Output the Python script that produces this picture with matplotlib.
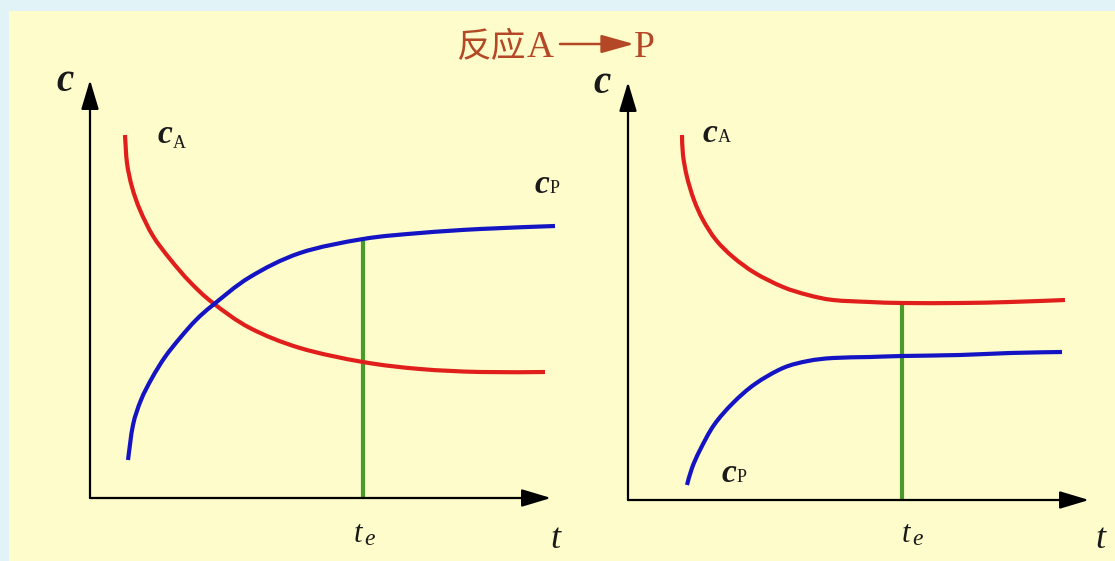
import matplotlib
matplotlib.use('Agg')
import numpy as np
import matplotlib.pyplot as plt
from matplotlib.patches import Rectangle, FancyArrowPatch, PathPatch
from matplotlib.path import Path

# ---------------- data ----------------
title_cn = "反应"
title_a = "A"
title_p = "P"

left_cA_t = [3.5, 3.7, 4.2, 5.0, 6.3, 8.0, 10.0, 12.3, 16.0, 21.0, 27.3, 33.0, 39.0, 45.5]
left_cA_c = [36.3, 33.5, 31.1, 28.8, 26.2, 23.9, 21.6, 19.5, 17.0, 15.0, 13.6, 12.9, 12.6, 12.6]
left_cP_t = [3.8, 4.3, 5.1, 6.2, 7.5, 9.0, 10.6, 12.3, 16.0, 21.0, 27.3, 33.0, 39.0, 46.5]
left_cP_c = [3.8, 7.3, 9.8, 12.0, 14.1, 16.0, 17.8, 19.3, 22.1, 24.5, 25.9, 26.5, 26.9, 27.2]
left_te = 27.3

right_cA_t = [5.4, 5.5, 5.9, 6.6, 7.5, 8.8, 10.5, 12.7, 15.5, 18.0, 20.5, 24.2, 27.4, 33.2, 38.2, 43.7]
right_cA_c = [36.5, 34.5, 32.3, 30.0, 28.0, 26.0, 24.3, 22.7, 21.3, 20.5, 20.0, 19.8, 19.7, 19.7, 19.8, 20.0]
right_cP_t = [5.9, 6.4, 7.2, 8.6, 10.5, 12.7, 15.5, 18.0, 20.5, 24.2, 27.4, 33.2, 38.2, 43.4]
right_cP_c = [1.5, 3.2, 5.0, 7.5, 9.7, 11.6, 13.2, 13.9, 14.2, 14.3, 14.4, 14.5, 14.7, 14.8]
right_te = 27.4

# ---------------- styles ----------------
W, H = 1115, 561
BG_OUT = '#e1f3f7'
BG_IN = '#fefcca'
RED = '#e01f1c'
BLUE = '#1414c4'
GREEN = '#4a9b2c'
TITLE_C = '#b44826'
SERIF = 'Liberation Serif'
INK = '#1a1a1a'

fig = plt.figure(figsize=(W / 100, H / 100), dpi=100, facecolor=BG_OUT)
fig.patches.append(Rectangle((9 / W, 0), 1 - 9 / W, 1 - 11 / H, transform=fig.transFigure,
                             facecolor=BG_IN, edgecolor='none', zorder=-10))


def fx(px):
    return px / W


def fy(py):
    return 1 - py / H


# title
fig.text(fx(456), fy(57), title_cn, family=['Noto Sans CJK SC', 'DejaVu Sans'], fontsize=25,
         color=TITLE_C, ha='left', va='baseline', fontweight='light')
fig.text(fx(527), fy(57), title_a, family=SERIF, fontsize=27, color=TITLE_C, ha='left', va='baseline')
fig.patches.append(FancyArrowPatch((fx(560), fy(44)), (fx(634), fy(44)), transform=fig.transFigure,
                                   arrowstyle='-|>,head_length=1.0,head_width=0.28', mutation_scale=20,
                                   lw=1.8, color=TITLE_C, shrinkA=0, shrinkB=0))
fig.text(fx(634), fy(57), title_p, family=SERIF, fontsize=27, color=TITLE_C, ha='left', va='baseline')


def smooth_curve(ax, xs, ys, color):
    """Draw a smooth curve through the read points (Catmull-Rom rendered as Bezier)."""
    P = np.column_stack([xs, ys]).astype(float)
    n = len(P)
    verts = [P[0]]
    codes = [Path.MOVETO]
    for i in range(n - 1):
        p0 = P[i - 1] if i > 0 else P[i]
        p1, p2 = P[i], P[i + 1]
        p3 = P[i + 2] if i + 2 < n else P[i + 1]
        verts += [p1 + (p2 - p0) / 6.0, p2 - (p3 - p1) / 6.0, p2]
        codes += [Path.CURVE4] * 3
    ax.add_patch(PathPatch(Path(verts, codes), facecolor='none', edgecolor=color, lw=3,
                           capstyle='butt', joinstyle='round', zorder=3))


def panel(rect, xlim, ylim, cA_t, cA_c, cP_t, cP_c, te, te_top_curve, labels):
    ax = fig.add_axes(rect, zorder=5)
    ax.set_xlim(*xlim)
    ax.set_ylim(*ylim)
    ax.axis('off')
    ax.patch.set_alpha(0)
    ax.annotate('', xy=(0, 41.8), xytext=(0, 0),
                arrowprops=dict(arrowstyle='-|>,head_length=1.0,head_width=0.3', mutation_scale=18,
                                lw=1.6, color='black', shrinkA=0, shrinkB=0))
    ax.annotate('', xy=(46.1, 0), xytext=(0, 0),
                arrowprops=dict(arrowstyle='-|>,head_length=1.0,head_width=0.3', mutation_scale=18,
                                lw=1.6, color='black', shrinkA=0, shrinkB=0))
    smooth_curve(ax, cA_t, cA_c, RED)
    smooth_curve(ax, cP_t, cP_c, BLUE)
    top = np.interp(te, te_top_curve[0], te_top_curve[1])
    ax.plot([te, te], [0, top], color=GREEN, lw=3, solid_capstyle='butt', zorder=2)
    for (txt, x, y, size, style, weight, ha) in labels:
        ax.text(x, y, txt, family=SERIF, fontsize=size, style=style, fontweight=weight,
                ha=ha, va='baseline', color=INK)
    return ax


left_labels = [
    ('c', -2.5, 40.7, 28, 'italic', 'bold', 'center'),
    ('c', 8.2, 35.5, 24, 'italic', 'bold', 'right'),
    ('A', 8.3, 35.0, 13, 'normal', 'normal', 'left'),
    ('c', 45.9, 30.5, 24, 'italic', 'bold', 'right'),
    ('P', 46.0, 30.5, 13, 'normal', 'normal', 'left'),
    ('t', 26.8, -4.4, 22, 'italic', 'normal', 'center'),
    ('e', 27.4, -4.7, 17, 'italic', 'normal', 'left'),
    ('t', 46.5, -5.0, 26, 'italic', 'normal', 'center'),
]
right_labels = [
    ('c', -2.6, 40.7, 28, 'italic', 'bold', 'center'),
    ('c', 8.9, 35.8, 24, 'italic', 'bold', 'right'),
    ('A', 9.0, 35.8, 13, 'normal', 'normal', 'left'),
    ('c', 10.8, 1.8, 24, 'italic', 'bold', 'right'),
    ('P', 10.9, 1.8, 13, 'normal', 'normal', 'left'),
    ('t', 27.8, -4.2, 22, 'italic', 'normal', 'center'),
    ('e', 28.4, -4.5, 17, 'italic', 'normal', 'left'),
    ('t', 47.2, -4.8, 26, 'italic', 'normal', 'center'),
]

panel([0, 0, 570 / W, 1], (-9.0, 48.0), (-6.3, 49.8),
      left_cA_t, left_cA_c, left_cP_t, left_cP_c, left_te, (left_cP_t, left_cP_c), left_labels)
panel([570 / W, 0, 545 / W, 1], (-5.8, 48.7), (-6.1, 50.0),
      right_cA_t, right_cA_c, right_cP_t, right_cP_c, right_te, (right_cA_t, right_cA_c), right_labels)

fig.savefig('out.png', dpi=100, facecolor=fig.get_facecolor())
